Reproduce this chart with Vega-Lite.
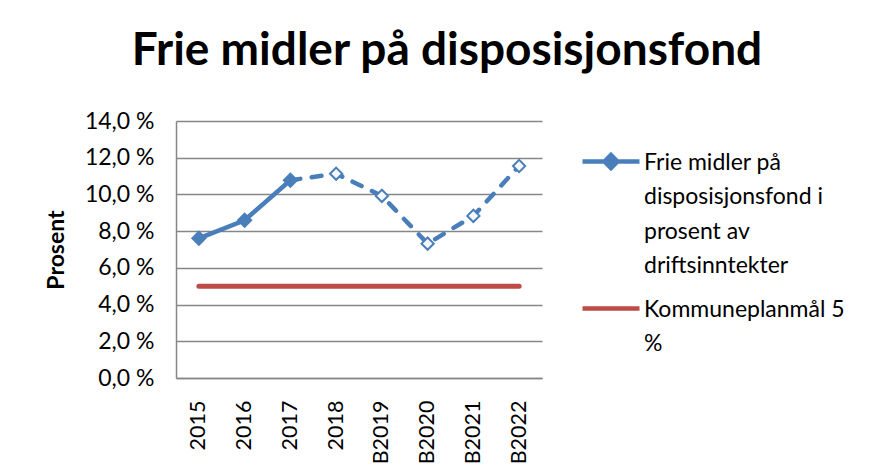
{
  "$schema": "https://vega.github.io/schema/vega-lite/v6.json",
  "width": 366,
  "height": 257,
  "autosize": {"type": "none"},
  "padding": {"left": 176, "top": 121, "right": 337, "bottom": 97},
  "background": "white",
  "title": {
    "text": "Frie midler på disposisjonsfond",
    "font": "Lato",
    "fontSize": 46,
    "fontWeight": "bold",
    "color": "black",
    "anchor": "middle",
    "frame": "group",
    "dx": 88,
    "offset": 35
  },
  "data": {
    "values": [
      {"aar": "2015", "serie": "Frie midler på disposisjonsfond i prosent av driftsinntekter", "verdi": 7.61, "type": "R"},
      {"aar": "2016", "serie": "Frie midler på disposisjonsfond i prosent av driftsinntekter", "verdi": 8.59, "type": "R"},
      {"aar": "2017", "serie": "Frie midler på disposisjonsfond i prosent av driftsinntekter", "verdi": 10.77, "type": "R"},
      {"aar": "2018", "serie": "Frie midler på disposisjonsfond i prosent av driftsinntekter", "verdi": 11.13, "type": "B"},
      {"aar": "B2019", "serie": "Frie midler på disposisjonsfond i prosent av driftsinntekter", "verdi": 9.92, "type": "B"},
      {"aar": "B2020", "serie": "Frie midler på disposisjonsfond i prosent av driftsinntekter", "verdi": 7.32, "type": "B"},
      {"aar": "B2021", "serie": "Frie midler på disposisjonsfond i prosent av driftsinntekter", "verdi": 8.83, "type": "B"},
      {"aar": "B2022", "serie": "Frie midler på disposisjonsfond i prosent av driftsinntekter", "verdi": 11.55, "type": "B"},
      {"aar": "2015", "serie": "Kommuneplanmål 5 %", "verdi": 5, "type": "M"},
      {"aar": "2016", "serie": "Kommuneplanmål 5 %", "verdi": 5, "type": "M"},
      {"aar": "2017", "serie": "Kommuneplanmål 5 %", "verdi": 5, "type": "M"},
      {"aar": "2018", "serie": "Kommuneplanmål 5 %", "verdi": 5, "type": "M"},
      {"aar": "B2019", "serie": "Kommuneplanmål 5 %", "verdi": 5, "type": "M"},
      {"aar": "B2020", "serie": "Kommuneplanmål 5 %", "verdi": 5, "type": "M"},
      {"aar": "B2021", "serie": "Kommuneplanmål 5 %", "verdi": 5, "type": "M"},
      {"aar": "B2022", "serie": "Kommuneplanmål 5 %", "verdi": 5, "type": "M"}
    ]
  },
  "encoding": {
    "x": {
      "field": "aar",
      "type": "nominal",
      "sort": null,
      "scale": {"paddingInner": 0, "paddingOuter": 0},
      "axis": {
        "title": null,
        "labelAngle": -90,
        "labelFont": "Lato",
        "labelFontSize": 21.5,
        "labelColor": "black",
        "labelPadding": 22,
        "labelOverlap": false,
        "ticks": false,
        "domainColor": "#868686",
        "domainWidth": 1.5,
        "grid": false
      }
    },
    "y": {
      "field": "verdi",
      "type": "quantitative",
      "scale": {"domain": [0, 14], "nice": false, "zero": true},
      "axis": {
        "title": "Prosent",
        "titleFont": "Lato",
        "titleFontSize": 23,
        "titleFontWeight": "bold",
        "titleColor": "black",
        "titlePadding": 16,
        "values": [0, 2, 4, 6, 8, 10, 12, 14],
        "labelExpr": "replace(format(datum.value, '.1f'), '.', ',') + ' %'",
        "labelFont": "Lato",
        "labelFontSize": 23,
        "labelColor": "black",
        "labelPadding": 22,
        "labelOverlap": false,
        "ticks": false,
        "domainColor": "#868686",
        "domainWidth": 1.5,
        "grid": true,
        "gridColor": "#868686",
        "gridWidth": 1.5
      }
    }
  },
  "layer": [
    {
      "transform": [{"filter": {"field": "type", "equal": "M"}}],
      "mark": {"type": "line", "strokeWidth": 5, "strokeCap": "round"},
      "encoding": {
        "color": {
          "field": "serie",
          "type": "nominal",
          "scale": {
            "domain": ["Frie midler på disposisjonsfond i prosent av driftsinntekter", "Kommuneplanmål 5 %"],
            "range": ["#4A7EBB", "#BE4B48"]
          },
          "legend": {
            "labelExpr": "datum.label == 'Kommuneplanmål 5 %' ? ['Kommuneplanmål 5', '%'] : ['Frie midler på', 'disposisjonsfond i', 'prosent av', 'driftsinntekter']",
            "encode": {
              "symbols": {
                "update": {
                  "shape": {"signal": "datum.value == 'Kommuneplanmål 5 %' ? 'M-1,2H10.4' : 'M-1,2H10.4M4.7,0.7L6,2L4.7,3.3L3.4,2Z'"},
                  "fill": {"signal": "datum.value == 'Kommuneplanmål 5 %' ? '#BE4B48' : '#4A7EBB'"},
                  "stroke": {"signal": "datum.value == 'Kommuneplanmål 5 %' ? '#BE4B48' : '#4A7EBB'"},
                  "strokeWidth": {"value": 4.5}
                }
              },
              "labels": {
                "update": {
                  "lineHeight": {"value": 34.5}
                }
              }
            }
          }
        }
      }
    },
    {
      "transform": [{"filter": {"field": "type", "equal": "R"}}],
      "mark": {"type": "line", "strokeWidth": 4.5, "strokeCap": "round"},
      "encoding": {
        "color": {"field": "serie", "type": "nominal"}
      }
    },
    {
      "transform": [{"filter": {"field": "aar", "oneOf": ["2017", "2018", "B2019", "B2020", "B2021", "B2022"]}}, {"filter": {"field": "type", "oneOf": ["R", "B"]}}],
      "mark": {"type": "line", "strokeWidth": 4.5, "strokeCap": "round", "strokeDash": [10, 11.5]},
      "encoding": {
        "color": {"field": "serie", "type": "nominal"}
      }
    },
    {
      "transform": [{"filter": {"field": "type", "equal": "R"}}],
      "mark": {"type": "point", "shape": "diamond", "size": 190, "filled": true, "opacity": 1, "stroke": "#4A7EBB", "strokeWidth": 1.5},
      "encoding": {
        "color": {"field": "serie", "type": "nominal"}
      }
    },
    {
      "transform": [{"filter": {"field": "type", "equal": "B"}}],
      "mark": {"type": "point", "shape": "diamond", "size": 150, "filled": true, "opacity": 1, "fill": "#F4F8FC", "stroke": "#4A7EBB", "strokeWidth": 2}
    }
  ],
  "config": {
    "view": {"stroke": null},
    "legend": {
      "orient": "none",
      "legendX": 400,
      "legendY": 19,
      "title": null,
      "labelFont": "Lato",
      "labelFontSize": 23,
      "labelColor": "black",
      "labelLimit": 400,
      "labelOffset": 45,
      "labelBaseline": "top",
      "symbolSize": 100,
      "symbolStrokeWidth": 4.5,
      "rowPadding": 9,
      "padding": 0
    }
  }
}
